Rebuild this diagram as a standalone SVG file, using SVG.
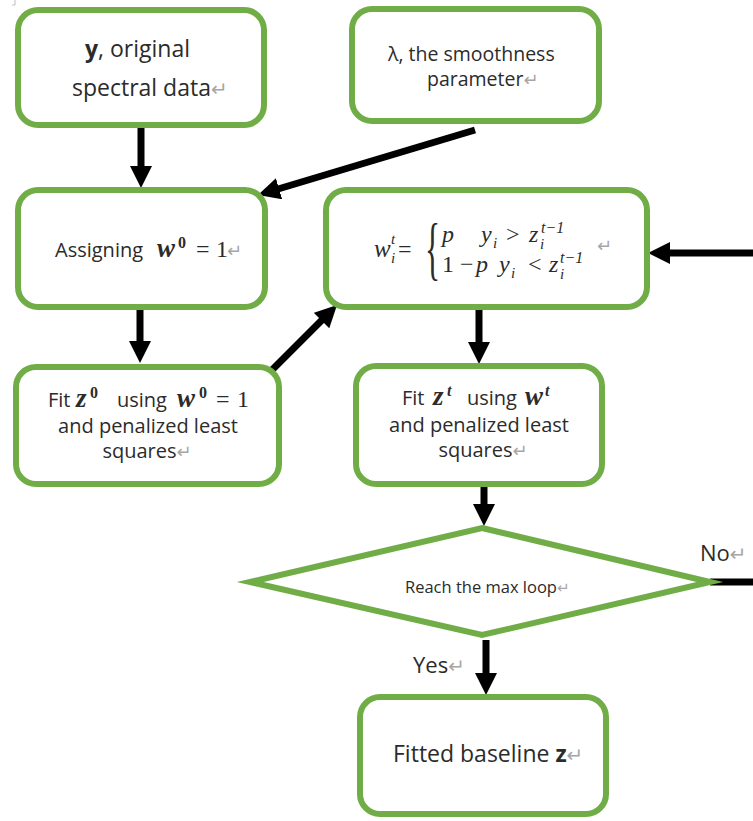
<svg xmlns="http://www.w3.org/2000/svg" width="753" height="821" viewBox="0 0 753 821">
<defs>
<style>
.box{fill:#fff;stroke:#70AD47;stroke-width:6}
.dia{fill:#fff;stroke:#70AD47;stroke-width:6;stroke-miterlimit:12;stroke-linejoin:miter}
.t{font-family:"Open Sans","Noto Sans","DejaVu Sans",sans-serif;fill:#2b2b2b}
.m{font-family:"Liberation Serif","DejaVu Serif",serif;fill:#2b2b2b}
.mb{font-family:"Liberation Serif","DejaVu Serif",serif;font-weight:bold;font-style:italic;fill:#2b2b2b}
.mi{font-family:"Liberation Serif","DejaVu Serif",serif;font-style:italic;fill:#2b2b2b}
.rt{font-family:"DejaVu Sans",sans-serif;fill:#a6a6a6;font-weight:normal}
.c{fill:none;stroke:#000;stroke-width:7;marker-end:url(#ah)}
.cn{fill:none;stroke:#000;stroke-width:7}
</style>
<marker id="ah" markerUnits="userSpaceOnUse" markerWidth="22" markerHeight="22" viewBox="0 0 22 22" refX="1" refY="11" orient="auto"><path d="M0,0 L22,11 L0,22 Z" fill="#000"/></marker>
</defs>
<rect width="753" height="821" fill="#fff"/>
<path d="M12,5 H15 V0" fill="none" stroke="#bdbdbd" stroke-width="1"/>

<g id="connectors">
<path class="c" d="M141,127 V167"/>
<path class="c" d="M475,130 L278.1,189"/>
<path class="c" d="M140,308 V342"/>
<path class="c" d="M270,372 L322.2,319.8"/>
<path class="c" d="M479,310 V343"/>
<path class="c" d="M753,253 H669"/>
<path class="c" d="M484,485 V505"/>
<path class="c" d="M486,640 V674"/>
<path class="cn" d="M710,582 H753"/>
<text class="t" x="700" y="561" font-size="22">No<tspan class="rt" font-size="20">↵</tspan></text>
<text class="t" x="413" y="673" font-size="22">Yes<tspan class="rt" font-size="20">↵</tspan></text>
</g>

<g id="n-data">
<rect class="box" x="18" y="10" width="246" height="115" rx="20"/>
<text class="t" x="85" y="57" font-size="23"><tspan font-weight="bold">y</tspan>, original</text>
<text class="t" x="72" y="96" font-size="23">spectral data<tspan class="rt" font-size="20">↵</tspan></text>
</g>

<g id="n-lambda">
<rect class="box" x="352" y="9" width="247" height="112" rx="20"/>
<text class="t" x="388" y="61" font-size="19.5">λ, the smoothness</text>
<text class="t" x="427" y="86" font-size="19.5">parameter<tspan class="rt" font-size="18">↵</tspan></text>
</g>

<g id="n-assign">
<rect class="box" x="18" y="190" width="247" height="117" rx="20"/>
<text class="t" x="55" y="257" font-size="20">Assigning</text>
<text class="mb" x="157" y="257" font-size="27">w</text>
<text class="m" x="178" y="248" font-size="16" font-weight="bold">0</text>
<text class="m" x="196" y="257" font-size="24">=</text>
<text class="m" x="216" y="257" font-size="24">1</text>
<text class="rt" x="227" y="257" font-size="18">↵</text>
</g>

<g id="n-weights">
<rect class="box" x="326" y="190" width="321" height="117" rx="20"/>
<text class="mi" x="374" y="257" font-size="25">w</text>
<text class="mi" x="391" y="244" font-size="15">t</text>
<text class="mi" x="391" y="263" font-size="15">i</text>
<text class="m" x="398" y="257" font-size="24">=</text>
<text class="m" transform="translate(425,272) scale(0.45,1)" font-size="70">{</text>
<text class="mi" x="442" y="242" font-size="24">p</text>
<text class="mi" x="481" y="242" font-size="24">y</text>
<text class="mi" x="493" y="248" font-size="15">i</text>
<text class="m" x="506" y="242" font-size="24">&gt;</text>
<text class="mi" x="529" y="242" font-size="24">z</text>
<text class="mi" x="540" y="249" font-size="15">i</text>
<text class="mi" x="541" y="233" font-size="16">t<tspan class="m">−1</tspan></text>
<text class="m" x="442" y="272" font-size="24">1 −</text>
<text class="mi" x="476" y="272" font-size="24">p</text>
<text class="mi" x="499" y="272" font-size="24">y</text>
<text class="mi" x="511" y="278" font-size="15">i</text>
<text class="m" x="528" y="272" font-size="24">&lt;</text>
<text class="mi" x="549" y="272" font-size="24">z</text>
<text class="mi" x="560" y="279" font-size="15">i</text>
<text class="mi" x="560" y="263" font-size="16">t<tspan class="m">−1</tspan></text>
<text class="rt" x="597" y="252" font-size="18">↵</text>
</g>

<g id="n-fit0">
<rect class="box" x="16" y="367" width="263" height="117" rx="20"/>
<text class="t" x="48" y="407" font-size="20">Fit</text>
<text class="mb" x="76" y="407" font-size="27">z</text>
<text class="m" x="90" y="398" font-size="16" font-weight="bold">0</text>
<text class="t" x="117" y="407" font-size="20">using</text>
<text class="mb" x="177" y="407" font-size="27">w</text>
<text class="m" x="199" y="398" font-size="16" font-weight="bold">0</text>
<text class="m" x="216" y="407" font-size="24">=</text>
<text class="m" x="237" y="407" font-size="24">1</text>
<text class="t" x="148" y="433" font-size="20" text-anchor="middle">and penalized least</text>
<text class="t" x="147" y="458" font-size="20" text-anchor="middle">squares<tspan class="rt" font-size="18">↵</tspan></text>
</g>

<g id="n-fitt">
<rect class="box" x="356" y="366" width="246" height="118" rx="20"/>
<text class="t" x="402" y="405" font-size="20">Fit</text>
<text class="mb" x="433" y="405" font-size="27">z</text>
<text class="mb" x="447" y="396" font-size="16">t</text>
<text class="t" x="467" y="405" font-size="20">using</text>
<text class="mb" x="525" y="405" font-size="27">w</text>
<text class="mb" x="545" y="396" font-size="16">t</text>
<text class="t" x="479" y="432" font-size="20" text-anchor="middle">and penalized least</text>
<text class="t" x="483" y="457" font-size="20" text-anchor="middle">squares<tspan class="rt" font-size="18">↵</tspan></text>
</g>

<g id="n-decision">
<polygon class="dia" points="482,528 710,582 482,635 250,582"/>
<text class="t" x="405" y="593" font-size="16.5">Reach the max loop<tspan class="rt" font-size="15">↵</tspan></text>
</g>

<g id="n-baseline">
<rect class="box" x="360" y="697" width="246" height="117" rx="20"/>
<text class="t" x="393" y="762" font-size="23">Fitted baseline <tspan font-weight="bold">z</tspan><tspan class="rt" font-size="20">↵</tspan></text>
</g>
</svg>
